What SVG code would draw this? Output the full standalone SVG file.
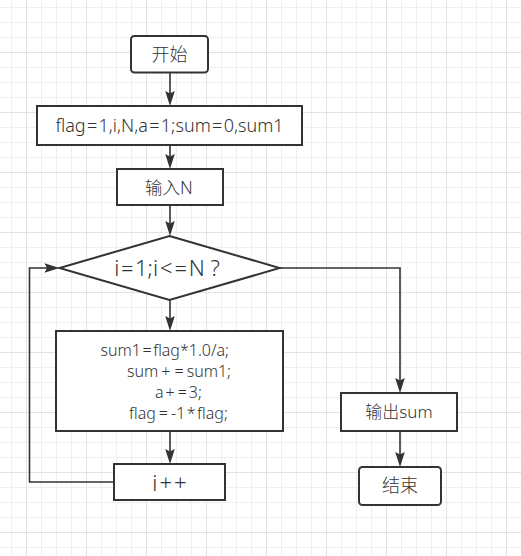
<svg xmlns="http://www.w3.org/2000/svg" width="521" height="556" viewBox="0 0 521 556">
<style>
.box{fill:#fff;stroke:#333;stroke-width:2}
.edge{fill:none;stroke:#333;stroke-width:1.6}
.t{font-family:"Noto Sans","Noto Sans CJK SC",sans-serif;font-weight:300;fill:#333;text-anchor:middle}
.tl{font-family:"Noto Sans","Noto Sans CJK SC",sans-serif;font-weight:300;fill:#333;font-size:16px}
</style>
<defs>
<pattern id="grid" patternUnits="userSpaceOnUse" x="26" y="52" width="60" height="60">
<path d="M15.5,0V60M30.5,0V60M45.5,0V60M0,15.5H60M0,30.5H60M0,45.5H60" stroke="#efefef" stroke-width="1" fill="none"/>
<path d="M0.5,0V60M0,0.5H60" stroke="#e2e2e2" stroke-width="1" fill="none"/>
</pattern>
<marker id="arr" viewBox="-16 -6 17 12" markerWidth="17" markerHeight="12" markerUnits="userSpaceOnUse" refX="-10" refY="0" orient="auto">
<path d="M0,0 L-15,-4.8 L-12.5,0 L-15,4.8 Z" fill="#333"/>
</marker>
</defs>
<rect width="521" height="556" fill="#fff"/>
<rect width="521" height="556" fill="url(#grid)"/>
<g id="connectors">
<path class="edge" d="M170,72 V96" marker-end="url(#arr)"/>
<path class="edge" d="M170,145 V159" marker-end="url(#arr)"/>
<path class="edge" d="M170,205 V226" marker-end="url(#arr)"/>
<path class="edge" d="M170,300 V321" marker-end="url(#arr)"/>
<path class="edge" d="M170,431 V454" marker-end="url(#arr)"/>
<path class="edge" d="M114,482 H29.5 V268 H49.5" marker-end="url(#arr)"/>
<path class="edge" d="M279.5,268 H400 V383" marker-end="url(#arr)"/>
<path class="edge" d="M400,431 V457" marker-end="url(#arr)"/>
</g>
<g id="start">
<rect class="box" x="131" y="36" width="77" height="36.5" rx="3.5"/>
<text class="t" x="169.5" y="61" font-size="18">开始</text>
</g>
<g id="init">
<rect class="box" x="37" y="106" width="265" height="39"/>
<text class="t" x="169.5" y="132" font-size="18">flag<tspan dx="1.3">=</tspan><tspan dx="1.3">1,i,N,a</tspan><tspan dx="1.3">=</tspan><tspan dx="1.3">1;sum</tspan><tspan dx="1.3">=</tspan><tspan dx="1.3">0,sum1</tspan></text>
</g>
<g id="input">
<rect class="box" x="117" y="169" width="106" height="36"/>
<text class="t" x="169" y="194" font-size="17.5">输入N</text>
</g>
<g id="decision">
<polygon class="box" points="169.5,236 279.5,268 169.5,300 59.5,268"/>
<text class="t" x="167" y="275.5" font-size="22">i<tspan dx="1.5">=</tspan><tspan dx="1.5">1;i</tspan><tspan dx="2">&lt;</tspan><tspan dx="2">=</tspan><tspan dx="1.5">N ?</tspan></text>
</g>
<g id="body">
<rect class="box" x="56" y="331" width="227" height="100"/>
<text class="tl" x="100.5" y="355.5">sum1<tspan dx="1.5">=</tspan><tspan dx="1.5">flag*1.0/a;</tspan></text>
<text class="tl" x="127" y="376.5">sum<tspan dx="3">+</tspan><tspan dx="4">=</tspan><tspan dx="3">sum1;</tspan></text>
<text class="tl" x="155" y="397.5">a<tspan dx="2">+</tspan><tspan dx="3">=</tspan><tspan dx="2">3;</tspan></text>
<text class="tl" x="129" y="419">flag<tspan dx="3">=</tspan><tspan dx="3">-1</tspan><tspan dx="1.5">*</tspan><tspan dx="1.5">flag;</tspan></text>
</g>
<g id="incr">
<rect class="box" x="114" y="464" width="111" height="36"/>
<text class="t" x="169.5" y="490.5" font-size="22">i<tspan dx="2">+</tspan><tspan dx="2">+</tspan></text>
</g>
<g id="output">
<rect class="box" x="341" y="393" width="116" height="38"/>
<text class="t" x="399" y="418" font-size="17">输出sum</text>
</g>
<g id="end">
<rect class="box" x="359" y="467" width="82" height="38" rx="3.5"/>
<text class="t" x="400" y="492" font-size="18">结束</text>
</g>
</svg>
